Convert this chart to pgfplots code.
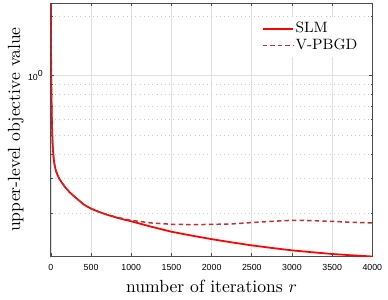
\documentclass[border=0pt]{standalone}
\usepackage{pgfplots}
\pgfplotsset{compat=1.18}
\usepackage{fontspec}
\newfontfamily\ticksf{Liberation Sans}
\definecolor{slm}{rgb}{1,0,0}
\definecolor{vpb}{rgb}{0.72,0.2,0.2}
\definecolor{axcol}{rgb}{0.3,0.3,0.3}
\begin{document}
\begin{tikzpicture}
\begin{axis}[
  name=ax,
  scale only axis,
  width=182.6pt, height=143.8pt,
  xmin=0, xmax=4000,
  ymode=log, ymin=0.1215, ymax=2.33,
  xtick={0,500,...,4000},
  scaled x ticks=false,
  /pgf/number format/assume math mode=true,
  /pgf/number format/set thousands separator={},
  xticklabel style={font=\ticksf\fontsize{5}{6}\selectfont, anchor=center, yshift=-6.6pt},
  ytick={1},
  yticklabels={10\textsuperscript{0}},
  yticklabel style={font=\ticksf\fontsize{5}{6}\selectfont, xshift=-0.6pt},
  minor ytick={0.2,0.3,0.4,0.5,0.6,0.7,0.8,0.9,2},
  xmajorgrids, ymajorgrids, yminorgrids,
  major grid style={line width=0.4pt, color=black!12},
  minor grid style={line width=0.4pt, color=black!20, dotted},
  axis line style={color=axcol, line width=0.5pt},
  every tick/.style={color=axcol, line width=0.4pt},
  major tick length=1.7pt,
  minor tick length=1pt,
  tick align=inside,
  xlabel={number of iterations $r$},
  ylabel={upper-level objective value},
  xlabel style={at={(axis description cs:0.5,-0.143)}, anchor=base},
  ylabel style={at={(axis description cs:-0.109,0.5)}, anchor=center},
  legend style={at={(1,1)}, anchor=north east, xshift=-5.5pt, yshift=-8pt,
    draw=none, fill=white, inner sep=2pt, row sep=0.3pt,
    font=\fontsize{8.5}{10}\selectfont,
    nodes={inner sep=0.8pt, text height=6pt, text depth=1.5pt}},
  legend cell align=left,
  legend image code/.code={\draw[#1] (0pt,0pt) -- (17.4pt,0pt);},
]
\addplot[slm, line width=1pt, line join=round] coordinates {
(0,2.33)(1,1.85)(2,1.5)(3,1.25)(4,1.08)(6,0.88)(8,0.76)(10,0.68)(13,0.59)(17,0.51)(22,0.45)(28,0.41)(35,0.38)(45,0.355)(60,0.332)(80,0.315)(105,0.30)(140,0.285)(180,0.271)(230,0.257)(280,0.246)(340,0.2345)(412,0.2215)(500,0.2115)(600,0.2035)(700,0.197)(800,0.1915)(900,0.1867)(1000,0.1825)(1250,0.1713)(1500,0.1616)(1750,0.1545)(2000,0.1482)(2250,0.1427)(2500,0.1378)(2750,0.1337)(3000,0.1300)(3250,0.1272)(3500,0.1246)(3750,0.1227)(4000,0.1210)
};
\addlegendentry{SLM}
\addplot[vpb, line width=0.85pt, dash pattern=on 2.5pt off 1.8pt] coordinates {
(0,2.33)(1,1.85)(2,1.5)(3,1.25)(4,1.08)(6,0.88)(8,0.76)(10,0.68)(13,0.59)(17,0.51)(22,0.45)(28,0.41)(35,0.38)(45,0.355)(60,0.332)(80,0.315)(105,0.30)(140,0.285)(180,0.271)(230,0.257)(280,0.246)(340,0.2345)(412,0.2215)(500,0.2115)(600,0.2035)(700,0.197)(800,0.1925)(900,0.188)(1000,0.1845)(1250,0.179)(1500,0.1763)(1750,0.1755)(2000,0.176)(2250,0.177)(2500,0.1798)(2750,0.1825)(3000,0.1846)(3250,0.1840)(3500,0.1823)(3750,0.1804)(4000,0.179)
};
\addlegendentry{V-PBGD}
\end{axis}
\path (ax.south west) ++(-28.9pt,-24.7pt) rectangle ([shift={(6.5pt,1.7pt)}]ax.north east);
\end{tikzpicture}
\end{document}
